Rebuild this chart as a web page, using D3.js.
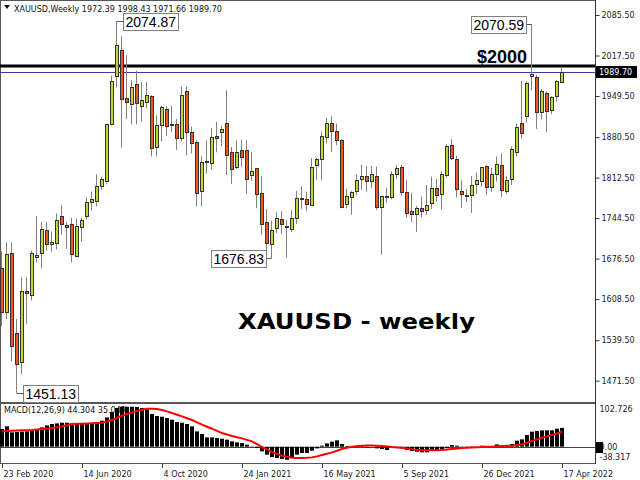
<!DOCTYPE html>
<html><head><meta charset="utf-8">
<script src="https://cdn.jsdelivr.net/npm/d3@7"></script>
<style>
html,body{margin:0;padding:0;background:#fff;}
svg{display:block;}
</style></head>
<body>
<script>
// ---------- DATA ----------
const startDate = new Date(2020, 1, 23);
const opens  = [1660,1586,1686,1552,1503,1622,1616,1679,1686,1724,1700,1704,1748,1733,1735,1681,1731,1748,1771,1774,1799,1808,1903,1983,2027,1946,1936,1969,1933,1940,1950,1864,1901,1927,1903,1902,1879,1958,1889,1873,1791,1838,1838,1882,1889,1905,1856,1830,1859,1858,1816,1828,1786,1738,1702,1728,1743,1731,1725,1744,1778,1777,1768,1833,1843,1882,1905,1891,1876,1768,1781,1789,1810,1815,1806,1816,1762,1781,1781,1819,1831,1789,1756,1751,1762,1758,1770,1795,1784,1816,1868,1844,1790,1784,1784,1802,1808,1832,1797,1818,1833,1791,1809,1855,1905,1915,1983,1981,1922,1955,1925,1949,1972.39];
const highs  = [1689,1704,1704,1575,1645,1645,1690,1748,1738,1738,1722,1752,1766,1738,1745,1744,1745,1779,1789,1818,1814,1903,1984,2074.87,2050,2018,1976,1992,1973,1973,1951,1917,1933,1933,1933,1911,1965,1965,1898,1875,1848,1875,1896,1906,1900,1959,1864,1875,1876,1875,1855,1828,1815,1760,1740,1755,1756,1741,1758,1790,1798,1789,1845,1846,1890,1913,1916,1903,1877,1794,1790,1818,1834,1832,1832,1831,1782,1795,1823,1834,1834,1809,1787,1765,1781,1800,1814,1810,1823,1868,1877,1849,1808,1793,1815,1821,1831,1833,1829,1848,1853,1815,1865,1903,1975,1974,2070.59,1985,1961,1957,1949,1976,1998.43];
const lows   = [1563,1575,1504,1451.13,1482,1567,1606,1670,1660,1690,1688,1692,1717,1693,1670,1680,1705,1742,1757,1764,1792,1801,1900,1964,1863,1911,1902,1902,1906,1929,1848,1848,1873,1883,1889,1859,1873,1850,1853,1764,1764,1819,1826,1855,1865,1817,1802,1827,1830,1785,1807,1761,1717,1687,1676.83,1719,1718,1678,1721,1735,1760,1756,1765,1809,1808,1870,1856,1867,1761,1761,1750,1783,1792,1789,1795,1758,1683,1770,1776,1810,1782,1745,1738,1721,1746,1750,1760,1772,1759,1813,1842,1779,1762,1771,1753,1785,1797,1783,1789,1806,1780,1785,1800,1848,1878,1905,1959,1894,1910,1889,1919,1940,1971.66];
const closes = [1586,1684,1530,1500,1622,1619,1686,1682,1727,1700,1704,1742,1735,1730,1685,1731,1742,1771,1776,1799,1810,1903,1975,2035,1944,1939,1964,1937,1943,1951,1862,1901,1931,1899,1901,1878,1952,1889,1871,1788,1839,1840,1881,1879,1894,1851,1828,1856,1848,1810,1823,1785,1734,1702,1725,1745,1735,1730,1744,1778,1777,1769,1831,1843,1882,1905,1891,1876,1764,1781,1789,1808,1815,1806,1818,1764,1781,1781,1819,1829,1789,1754,1751,1761,1757,1766,1795,1783,1818,1865,1846,1793,1785,1784,1800,1809,1831,1797,1818,1835,1791,1809,1860,1897,1889,1971,1986,1922,1958,1925,1947,1974,1989.70];
const macdHist = [41.6,47.8,33.7,34.5,35.3,36.0,37.6,40.7,45.4,50.1,53.3,54.8,56.4,56.4,54.8,54.8,54.8,55.6,56.4,58.0,61.1,68.9,81.5,90.9,94.0,94.0,94.0,93.3,90.9,87.0,76.8,72.1,70.5,67.4,63.5,58.0,56.4,53.3,47.8,36.0,29.8,21.9,21.9,20.4,18.8,16.5,12.5,10.2,8.6,4.7,0.8,-3.1,-11.0,-18.8,-24.3,-26.6,-29.0,-30.6,-26.6,-18.8,-14.9,-14.9,-9.4,-4.0,2.4,7.8,11.8,14.9,6.3,1.6,0.8,2.4,3.9,-1.6,0,-3.9,-5.5,-7.8,-2.4,-0.8,-3.9,-7.8,-10.2,-11.8,-13.3,-13.3,-7.8,-7.8,-6.3,-2.4,3.9,2.4,-1.6,-1.6,-1.6,0,2.4,0,1.6,5.5,1.6,2.4,6.3,14.1,17.2,27.4,35.3,36.8,38.4,38.4,38.4,42.3,44.304];
const macdSignal = [36.0,36.8,37.6,38.0,38.4,38.8,39.2,40.3,41.5,42.7,43.9,45.8,47.8,50.5,53.3,53.7,54.1,54.5,54.9,55.6,56.4,59.0,62.7,67.5,72.9,77.0,80.7,84.0,87.0,89.3,89.3,88.5,86.2,83.0,79.1,75.2,71.3,67.0,62.7,57.2,51.7,47.0,42.3,37.2,32.1,28.6,25.1,22.3,19.6,16.0,12.5,6.0,-0.8,-6.5,-12.5,-17.0,-21.2,-23.8,-25.9,-26.4,-26.6,-26.0,-25.1,-22.7,-19.6,-16.5,-13.3,-9.5,-5.5,-2.5,0,1.3,2.4,2.8,3.1,2.4,1.6,0.4,-0.8,-1.6,-2.4,-4.3,-6.3,-7.5,-8.6,-8.6,-8.6,-8.2,-7.8,-6.7,-5.5,-4.3,-3.1,-2.3,-1.6,-1.2,-0.8,-0.4,0,0.8,1.6,2.0,2.4,3.9,5.5,9.4,13.3,17.2,21.2,24.3,27.4,31.2,35.049];
const priceTicks = [2085.50,2017.50,1949.50,1880.50,1812.50,1744.50,1676.50,1608.50,1539.50,1471.50];
const macdTicks = [102.726, 0.00, -38.317];
const macdTickLabels = ["102.726", "0.00", "-38.317"];
const dateTickIdx = [0,16,32,48,64,80,96,112];
const dateTickLabels = ["23 Feb 2020","14 Jun 2020","4 Oct 2020","24 Jan 2021","16 May 2021","5 Sep 2021","26 Dec 2021","17 Apr 2022"];
const headerText = "XAUUSD,Weekly  1972.39 1998.43 1971.66 1989.70";
const macdText = "MACD(12,26,9) 44.304 35.049";
const levelPrice = 2000;
const levelLabel = "$2000";
const bidPrice = 1989.70;
const titleText = "XAUUSD - weekly";
// markers: [barIndex, price, side]
const markers = [[23, 2074.87, "right"], [106, 2070.59, "left"], [54, 1676.83, "left"], [3, 1451.13, "right"]];

// ---------- SETUP ----------
const SMALL = "'DejaVu Sans', sans-serif";
const ARIAL = "'Liberation Sans', Arial, sans-serif";
const W = 640, H = 480;
const svg = d3.select("body").append("svg").attr("width", W).attr("height", H);
const dates = d3.range(opens.length).map(i => d3.timeDay.offset(startDate, 7 * i));
const x = d3.scaleLinear().domain([0, opens.length - 1]).range([2, 562]);
const y = d3.scaleLinear().domain([1471.5, 2085.5]).range([380.7, 15]);
const ym = d3.scaleLinear().domain([-38.317, 102.726]).range([463, 403]);
const axisX = 595.5;

// frames
svg.append("rect").attr("x", 0.5).attr("y", 0.5).attr("width", 595).attr("height", 402)
  .attr("fill", "none").attr("stroke", "#555");
svg.append("rect").attr("x", 0.5).attr("y", 403.5).attr("width", 595).attr("height", 60)
  .attr("fill", "none").attr("stroke", "#555");

// header
svg.append("path").attr("d", "M4,5 L10,5 L7,9 Z").attr("fill", "#111");
svg.append("text").attr("x", 14).attr("y", 12).style("font-family", SMALL).style("font-size", "8px")
  .attr("fill", "#111").text(headerText);

// level line & bid line
svg.append("line").attr("x1", 0).attr("x2", axisX).attr("y1", Math.round(y(bidPrice)) + 0.5).attr("y2", Math.round(y(bidPrice)) + 0.5)
  .attr("stroke", "#3c3c9c").attr("stroke-width", 1);
svg.append("line").attr("x1", 0).attr("x2", axisX).attr("y1", y(levelPrice)).attr("y2", y(levelPrice))
  .attr("stroke", "#000").attr("stroke-width", 3);
svg.append("text").attr("x", 527).attr("y", y(levelPrice) - 3).attr("text-anchor", "end")
  .style("font-family", ARIAL).style("font-weight", "bold").style("font-size", "18px")
  .attr("fill", "#000").text(levelLabel);

// candles
const bars = d3.range(opens.length);
const cg = svg.append("g");
cg.selectAll("line.wick").data(bars).join("line").attr("class", "wick")
  .attr("x1", i => x(i) - 0.5).attr("x2", i => x(i) - 0.5)
  .attr("y1", i => y(highs[i])).attr("y2", i => y(lows[i]))
  .attr("stroke", "#808080").attr("stroke-width", 1);
cg.selectAll("rect.body").data(bars).join("rect").attr("class", "body")
  .attr("x", i => x(i) - 2 + 0.5).attr("width", 3)
  .attr("y", i => Math.round(y(Math.max(opens[i], closes[i]))) + 0.5)
  .attr("height", i => Math.max(1, Math.round(Math.abs(y(opens[i]) - y(closes[i])))))
  .attr("fill", i => closes[i] >= opens[i] ? "#c3d62a" : "#f0561e")
  .attr("stroke", "#333").attr("stroke-width", 1);

// markers
markers.forEach(([i, p, side]) => {
  const cx = x(i) - 0.5, cy = Math.round(y(p)) + 0.5;
  const g = svg.append("g");
  const t = g.append("text").style("font-family", ARIAL).style("font-size", "14px")
    .attr("fill", "#000").text(d3.format(".2f")(p));
  const tw = t.node().getComputedTextLength();
  const bw = Math.round(tw + 4), bh = 17;
  const bx = side === "right" ? Math.round(cx + 6.5) + 0.5 : Math.round(cx - 5.5 - bw) + 0.5;
  const by = Math.round(cy - bh / 2);
  g.insert("rect", "text").attr("x", bx).attr("y", by + 0.5).attr("width", bw).attr("height", bh)
    .attr("fill", "#fff").attr("stroke", "#808080");
  t.attr("x", bx + 2).attr("y", by + 14);
  const ex = side === "right" ? bx : bx + bw;
  g.append("line").attr("x1", cx).attr("x2", ex).attr("y1", cy).attr("y2", cy).attr("stroke", "#555");
});

// big title
svg.append("text").attr("x", 238).attr("y", 329)
  .style("font-family", SMALL).style("font-weight", "bold").style("font-size", "22px")
  .attr("textLength", 237).attr("lengthAdjust", "spacingAndGlyphs")
  .attr("fill", "#000").text(titleText);

// right price axis
const ya = svg.append("g").attr("transform", `translate(${axisX},0)`)
  .call(d3.axisRight(y).tickValues(priceTicks).tickFormat(d3.format(".2f")).tickSize(4).tickPadding(2));
ya.select(".domain").remove();
ya.selectAll("line").attr("stroke", "#333");
ya.selectAll("text").style("font-size", "8px").style("font-family", SMALL).attr("fill", "#222");
svg.append("line").attr("x1", axisX).attr("x2", axisX).attr("y1", 0).attr("y2", 464).attr("stroke", "#333");

// bid label
svg.append("rect").attr("x", 596).attr("y", Math.round(y(bidPrice)) - 6).attr("width", 41).attr("height", 12).attr("fill", "#000");
svg.append("text").attr("x", 599).attr("y", Math.round(y(bidPrice)) + 3).style("font-size", "8px").style("font-family", SMALL)
  .attr("fill", "#fff").text(d3.format(".2f")(bidPrice));

// MACD
svg.append("text").attr("x", 4).attr("y", 413).style("font-size", "8px").style("font-family", SMALL)
  .attr("fill", "#111").text(macdText);
svg.append("line").attr("x1", 0).attr("x2", axisX).attr("y1", Math.round(ym(0)) + 0.5).attr("y2", Math.round(ym(0)) + 0.5)
  .attr("stroke", "#444");
svg.append("g").selectAll("rect").data(bars).join("rect")
  .attr("x", i => x(i) - 2).attr("width", 4)
  .attr("y", i => Math.min(ym(macdHist[i]), ym(0)))
  .attr("height", i => Math.abs(ym(macdHist[i]) - ym(0)))
  .attr("fill", "#000");
svg.append("path").datum(bars).attr("fill", "none").attr("stroke", "#ff0000").attr("stroke-width", 2)
  .attr("d", d3.line().x(i => x(i)).y(i => ym(macdSignal[i])));
const ma = svg.append("g").attr("transform", `translate(${axisX},0)`)
  .call(d3.axisRight(ym).tickValues(macdTicks).tickFormat((d, k) => macdTickLabels[k]).tickSize(0).tickPadding(4));
ma.select(".domain").remove();
ma.selectAll("text").style("font-size", "8px").style("font-family", SMALL).attr("fill", "#222");
ma.selectAll(".tick").filter((d, k) => k === 0).select("text").attr("dy", "1.1em");
ma.selectAll(".tick").filter((d, k) => k === 2).select("text").attr("dy", "-0.4em");
svg.append("rect").attr("x", 596).attr("y", Math.round(ym(0)) - 5).attr("width", 7).attr("height", 11).attr("fill", "#000");

// date axis
const xa = svg.append("g").attr("transform", "translate(0,464)")
  .call(d3.axisBottom(x).tickValues(dateTickIdx).tickFormat((d, k) => dateTickLabels[k]).tickSize(4).tickPadding(3));
xa.select(".domain").remove();
xa.selectAll("line").attr("stroke", "#333");
xa.selectAll("text").attr("text-anchor", "start").attr("dx", "1").style("font-size", "8px")
  .style("font-family", SMALL).attr("fill", "#222");
</script>
</body></html>
